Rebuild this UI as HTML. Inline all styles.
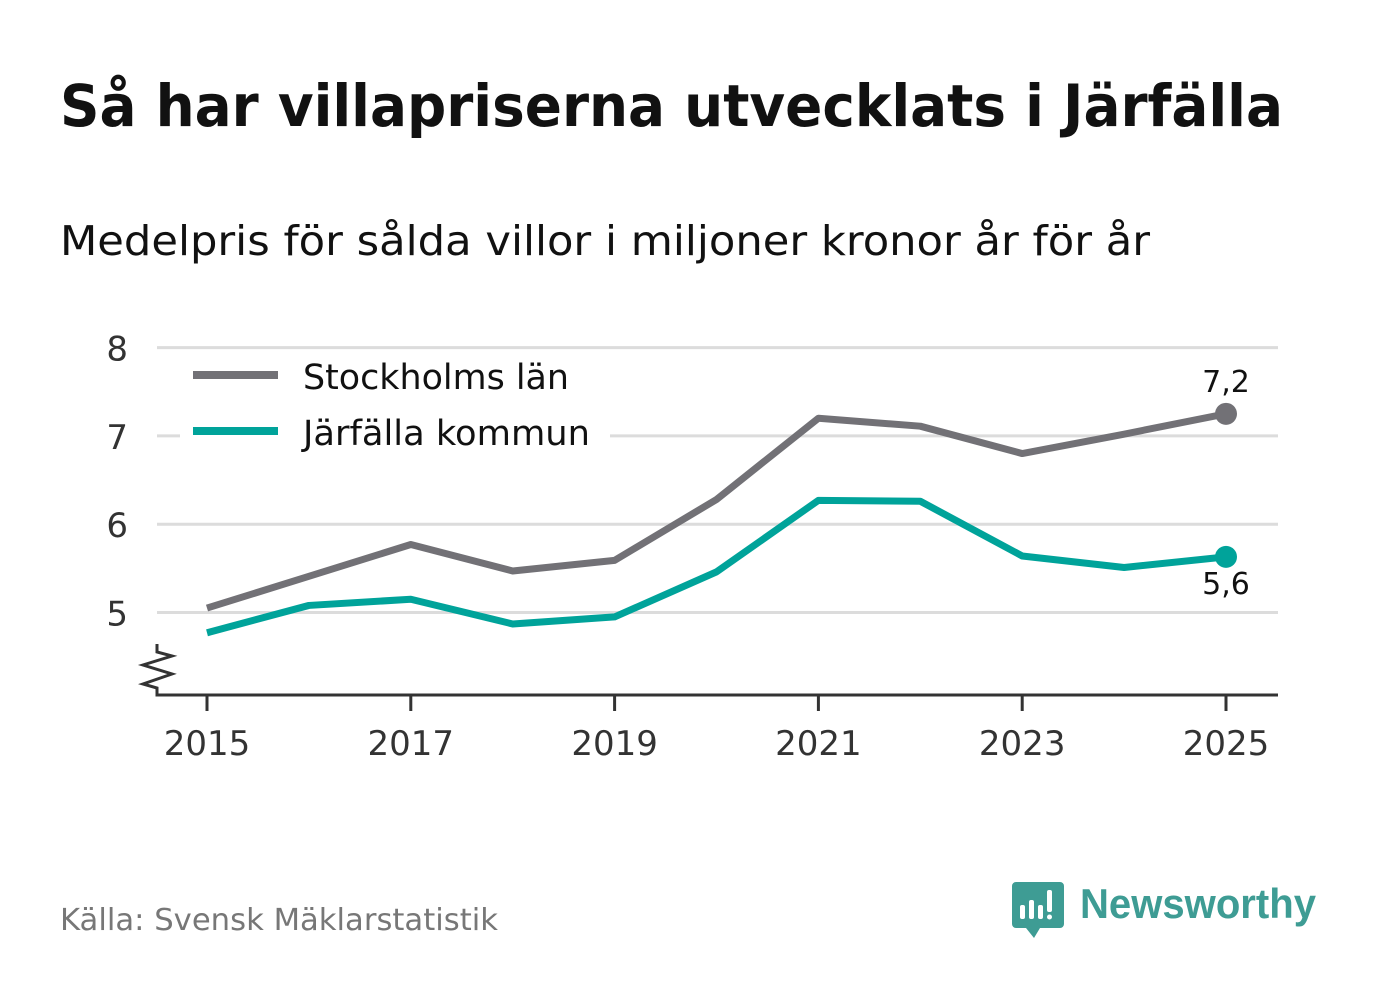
<!DOCTYPE html>
<html><head><meta charset="utf-8"><style>
body{margin:0;background:#fff;width:1382px;height:999px;overflow:hidden;font-family:"DejaVu Sans","Liberation Sans",sans-serif}
</style></head><body>
<svg width="1382" height="999" xmlns="http://www.w3.org/2000/svg">
<text x="60" y="126" font-size="58" font-weight="bold" fill="#111" textLength="1223" lengthAdjust="spacingAndGlyphs">Så har villapriserna utvecklats i Järfälla</text>
<text x="60" y="255" font-size="41" fill="#111" textLength="1090" lengthAdjust="spacingAndGlyphs">Medelpris för sålda villor i miljoner kronor år för år</text>
<g id="grid"></g>
<g id="axis"></g>
<g id="series"></g>
<rect x="180" y="350" width="430" height="110" fill="#fff"/>
<line x1="193" y1="375" x2="278" y2="375" stroke="#727176" stroke-width="8"/>
<text x="303" y="389" font-size="35" fill="#111" textLength="266" lengthAdjust="spacingAndGlyphs">Stockholms län</text>
<line x1="193" y1="431" x2="278" y2="431" stroke="#00a39a" stroke-width="8"/>
<text x="303" y="445" font-size="35" fill="#111" textLength="287" lengthAdjust="spacingAndGlyphs">Järfälla kommun</text>
<text x="60" y="930" font-size="30" fill="#777" textLength="438" lengthAdjust="spacingAndGlyphs">Källa: Svensk Mäklarstatistik</text>
<g>
<path d="M1016 882h44a4 4 0 0 1 4 4v38a4 4 0 0 1-4 4h-20l-6 10-8-10h-10a4 4 0 0 1-4-4v-38a4 4 0 0 1 4-4z" fill="#3e9c94"/>
<rect x="1020" y="905" width="5" height="14" rx="2" fill="#fff"/><rect x="1029" y="900" width="5" height="19" rx="2" fill="#fff"/><rect x="1038" y="905" width="5" height="14" rx="2" fill="#fff"/><rect x="1047" y="890" width="5" height="22" rx="2" fill="#fff"/><circle cx="1049.5" cy="917" r="2.5" fill="#fff"/>
<text x="1080" y="918" font-size="42" font-family="Liberation Sans, sans-serif" font-weight="bold" fill="#3e9c94" textLength="236" lengthAdjust="spacingAndGlyphs">Newsworthy</text>
</g>
</svg>
<script>
const years=[2015,2016,2017,2018,2019,2020,2021,2022,2023,2024,2025];
const stockholm=[5.05,5.41,5.77,5.47,5.59,6.28,7.20,7.11,6.80,7.02,7.25];
const jarfalla=[4.77,5.08,5.15,4.87,4.95,5.46,6.27,6.26,5.64,5.51,5.63];
const yTicks=[5,6,7,8];
const xTicks=[2015,2017,2019,2021,2023,2025];
const endLabels=["7,2","5,6"];
const NS="http://www.w3.org/2000/svg";
const x=v=>207+(v-2015)*101.9;
const y=v=>612.5-(v-5)*88.3;
function mk(parent,tag,attrs,text){const e=document.createElementNS(NS,tag);for(const k in attrs)e.setAttribute(k,attrs[k]);if(text!==undefined)e.textContent=text;document.getElementById(parent).appendChild(e);return e;}
yTicks.forEach(t=>{
 const l=mk('grid','line',{x1:157,x2:1278,y1:y(t),y2:y(t),stroke:'#dcdcdc','stroke-width':3});
 
 
 const tx=mk('grid','text',{x:128,y:y(t)+13,'font-size':34,fill:'#333','text-anchor':'end'},t);
 
 
});
const ax=mk('axis','path',{d:'M157 644V652L172 656L143 665L172 674L143 684L157 688V695H1278',fill:'none',stroke:'#333','stroke-width':3});


xTicks.forEach(t=>{
 const l=mk('axis','line',{x1:x(t),x2:x(t),y1:695,y2:711,stroke:'#333','stroke-width':3});
 
 
 const tx=mk('axis','text',{x:x(t),y:755,'font-size':34,fill:'#333','text-anchor':'middle'},t);
 
 
});
[[stockholm,'#727176','stockholm',endLabels[0],-22],[jarfalla,'#00a39a','jarfalla',endLabels[1],37]].forEach(([d,c,n,lab,dy])=>{
 const p=mk('series','polyline',{points:d.map((v,i)=>x(years[i])+','+y(v)).join(' '),fill:'none',stroke:c,'stroke-width':7,'stroke-linejoin':'round'});
 
 
 const last=d.length-1;
 const cc=mk('series','circle',{cx:x(years[last]),cy:y(d[last]),r:11,fill:c});
 
 
 const t=mk('series','text',{x:x(years[last]),y:y(d[last])+dy,'font-size':30,fill:'#111','text-anchor':'middle'},lab);
 
 
});
</script>
</body></html>
